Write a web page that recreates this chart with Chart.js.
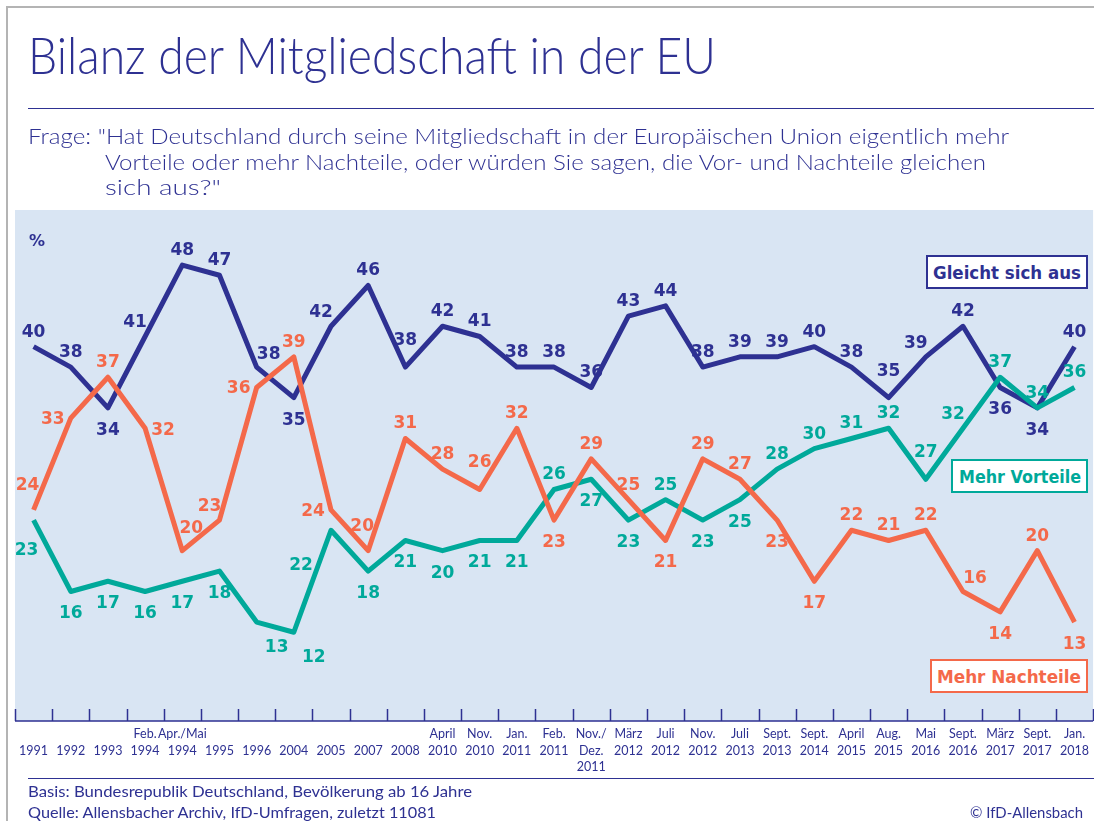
<!DOCTYPE html>
<html>
<head>
<meta charset="utf-8">
<script src="https://cdn.jsdelivr.net/npm/chart.js"></script>
<style>
  body { margin: 0; background: #fff; }
  #page { position: relative; width: 1094px; height: 821px; overflow: hidden; background: #fff; }
  #frame { position: absolute; left: 6px; top: 6px; width: 1200px; height: 900px; border-left: 2px solid #b4b4b4; border-top: 2px solid #b4b4b4; }
  canvas { position: absolute; left: 0; top: 0; }
  .txt { position: absolute; white-space: nowrap; color: #2e3192; font-family: Lato, sans-serif; transform-origin: 0 0; line-height: 1; }
  .rule { position: absolute; height: 0; border-top: 1.5px solid #2e3192; }
  .box { position: absolute; background: #fff; box-sizing: border-box; border: 2px solid; }
  .box span { position: absolute; left: 0; top: 0; white-space: nowrap; font-family: "DejaVu Sans", sans-serif; font-weight: bold; font-size: 18px; line-height: 1; transform-origin: 0 0; }
</style>
</head>
<body>
<div id="page">
  <div id="frame"></div>
  <canvas id="myChart" width="1094" height="821"></canvas>

  <div class="txt" data-w="688" style="left:28px; top:29px; font-size:51px; font-weight:300;">Bilanz der Mitgliedschaft in der EU</div>
  <div class="rule" style="left:28px; top:108px; width:1066px;"></div>
  <div class="txt" data-w="981" style="left:28px; top:125px; font-size:21px; font-weight:300;">Frage: "Hat Deutschland durch seine Mitgliedschaft in der Europäischen Union eigentlich mehr</div>
  <div class="txt" data-w="881" style="left:105px; top:151px; font-size:21px; font-weight:300;">Vorteile oder mehr Nachteile, oder würden Sie sagen, die Vor- und Nachteile gleichen</div>
  <div class="txt" data-w="116" style="left:105px; top:176px; font-size:21px; font-weight:300;">sich aus?"</div>

  <div class="box" style="left:926px; top:255px; width:162px; height:34px; border-color:#2e3192;"><span data-w="148" style="color:#2e3192;">Gleicht sich aus</span></div>
  <div class="box" style="left:951px; top:459px; width:137px; height:34px; border-color:#00a99a;"><span data-w="122" style="color:#00a99a;">Mehr Vorteile</span></div>
  <div class="box" style="left:930px; top:659px; width:158px; height:34px; border-color:#f4694a;"><span data-w="144" style="color:#f4694a;">Mehr Nachteile</span></div>

  <div class="rule" style="left:28px; top:778px; width:1066px;"></div>
  <div class="txt" data-w="444" style="left:28px; top:784px; font-size:15px;">Basis: Bundesrepublik Deutschland, Bevölkerung ab 16 Jahre</div>
  <div class="txt" data-w="408" style="left:28px; top:805px; font-size:15px;">Quelle: Allensbacher Archiv, IfD-Umfragen, zuletzt 11081</div>
  <div class="txt" id="copy" data-w="113" style="left:970px; top:805px; font-size:15px;">© IfD-Allensbach</div>
</div>

<script>
// Erhebungszeitpunkte (Tick-Beschriftungen, mehrzeilig)
const labels = [
  ['', '1991'], ['', '1992'], ['', '1993'], ['Feb.', '1994'], ['Apr./Mai', '1994'],
  ['', '1995'], ['', '1996'], ['', '2004'], ['', '2005'], ['', '2007'], ['', '2008'],
  ['April', '2010'], ['Nov.', '2010'], ['Jan.', '2011'], ['Feb.', '2011'], ['Nov./', 'Dez.', '2011'],
  ['März', '2012'], ['Juli', '2012'], ['Nov.', '2012'], ['Juli', '2013'], ['Sept.', '2013'],
  ['Sept.', '2014'], ['April', '2015'], ['Aug.', '2015'], ['Mai', '2016'], ['Sept.', '2016'],
  ['März', '2017'], ['Sept.', '2017'], ['Jan.', '2018']
];

const gleichtSichAus = [40, 38, 34, 41, 48, 47, 38, 35, 42, 46, 38, 42, 41, 38, 38, 36, 43, 44, 38, 39, 39, 40, 38, 35, 39, 42, 36, 34, 40];
const mehrNachteile  = [24, 33, 37, 32, 20, 23, 36, 39, 24, 20, 31, 28, 26, 32, 23, 29, 25, 21, 29, 27, 23, 17, 22, 21, 22, 16, 14, 20, 13];
const mehrVorteile   = [23, 16, 17, 16, 17, 18, 13, 12, 22, 18, 21, 20, 21, 21, 26, 27, 23, 25, 23, 25, 28, 30, 31, 32, 27, 32, 37, 34, 36];

// wo die Zahl am Punkt steht
const posGleicht = ['n','n','s','nw','n','n','ne','s','nw','n','N','n','n','n','n','n','n','n','n','n','n','n','n','N','nw','n','s','s','n'];
const posNachteile = ['NW','w','n','e','NE','nw','w','n','w','NW','n','n','N','n','s','n','n','s','n','n','s','s','n','n','n','ne','s','n','s'];
const posVorteile = ['SW','s','s','s','s','s','se','se','sw2','s','s','s','s','s','n','s','s','n','s','s','n','n','n','n','N','nw','n','n','n'];

const offsets = {
  n: [0, -16], N: [0, -28], s: [0, 21], w: [-18, 0], e: [18, 1],
  nw: [-10, -15], NW: [-6, -26], ne: [12, -14], NE: [9, -24],
  se: [20, 24], SW: [-7, 29], sw2: [-30, 34]
};

const NAVY = '#2e3192', ORANGE = '#f4694a', TEAL = '#00a99a';

const bgPlugin = {
  id: 'bg',
  beforeDraw(chart) {
    const { ctx, chartArea: a } = chart;
    ctx.save();
    ctx.fillStyle = '#d9e5f3';
    ctx.fillRect(a.left, a.top, a.right - a.left, a.bottom - a.top);
    ctx.restore();
  },
  afterDatasetsDraw(chart) {
    const { ctx, chartArea: a } = chart;
    const x = chart.scales.x;
    const half = (x.getPixelForValue(1) - x.getPixelForValue(0)) / 2;
    ctx.save();
    ctx.strokeStyle = NAVY;
    ctx.lineWidth = 1.5;
    ctx.beginPath();
    ctx.moveTo(a.left, a.bottom);
    ctx.lineTo(a.right, a.bottom);
    for (let i = 0; i <= labels.length; i++) {
      const px = Math.round(x.getPixelForValue(i) - half) + 0.5;
      ctx.moveTo(px, a.bottom);
      ctx.lineTo(px, a.bottom - 12);
    }
    ctx.stroke();
    // Prozentzeichen
    ctx.fillStyle = NAVY;
    ctx.font = 'bold 16px "DejaVu Sans"';
    ctx.textAlign = 'center';
    ctx.fillText('%', 37, 246);
    ctx.restore();
  }
};

const valueLabels = {
  id: 'valueLabels',
  afterDatasetsDraw(chart) {
    const ctx = chart.ctx;
    ctx.save();
    ctx.font = 'bold 17px "DejaVu Sans"';
    ctx.textAlign = 'center';
    ctx.textBaseline = 'alphabetic';
    chart.data.datasets.forEach((ds, di) => {
      const meta = chart.getDatasetMeta(di);
      ctx.fillStyle = ds.borderColor;
      meta.data.forEach((pt, i) => {
        const off = offsets[ds.labelPos[i]] || offsets.n;
        ctx.fillText(String(ds.data[i]), pt.x + off[0], pt.y + off[1] + 6);
      });
    });
    ctx.restore();
  }
};

new Chart('myChart', {
  type: 'line',
  data: {
    labels: labels,
    datasets: [
      { label: 'Mehr Nachteile', data: mehrNachteile, borderColor: ORANGE, labelPos: posNachteile },
      { label: 'Mehr Vorteile', data: mehrVorteile, borderColor: TEAL, labelPos: posVorteile },
      { label: 'Gleicht sich aus', data: gleichtSichAus, borderColor: NAVY, labelPos: posGleicht }
    ]
  },
  options: {
    responsive: false,
    animation: false,
    layout: { padding: { left: 15, top: 210, right: 0, bottom: 40 } },
    elements: {
      line: { borderWidth: 5, tension: 0, borderJoinStyle: 'round', fill: false },
      point: { radius: 0, hoverRadius: 0 }
    },
    plugins: { legend: { display: false }, tooltip: { enabled: false }, title: { display: false } },
    scales: {
      x: {
        offset: true,
        grid: { display: false, drawTicks: false },
        border: { display: false },
        afterFit(s) { s.height = 60; },
        ticks: {
          autoSkip: false, maxRotation: 0, padding: 5,
          color: NAVY,
          font: { family: 'Lato', size: 12.5, lineHeight: 1.32 }
        }
      },
      y: { display: false, min: 3.3, max: 53.4 }
    }
  },
  plugins: [bgPlugin, valueLabels]
});

// Textbreiten an die Vorlage anpassen
document.querySelectorAll('[data-w]').forEach(el => {
  const w = el.getBoundingClientRect().width;
  const target = +el.dataset.w;
  if (w > 0) el.style.transform = 'scaleX(' + (target / w) + ')';
});
const box = document.querySelectorAll('.box span');
box.forEach(sp => {
  const parent = sp.parentElement.getBoundingClientRect();
  sp.style.left = ((parent.width - 4 - +sp.dataset.w) / 2) + 'px';
  sp.style.top = ((parent.height - 4 - 18) / 2 + 1) + 'px';
});
</script>
</body>
</html>
